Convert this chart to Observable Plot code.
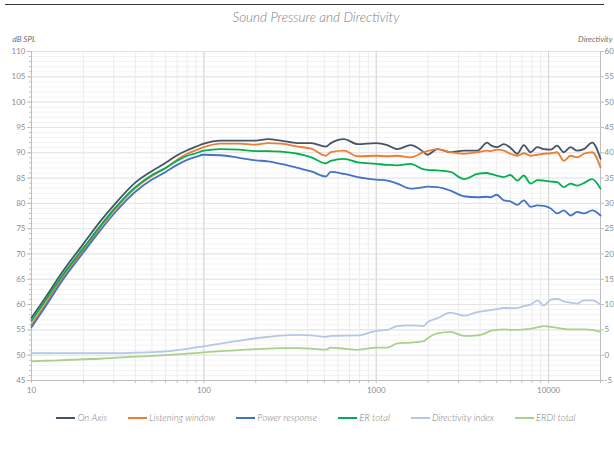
<!DOCTYPE html>
<html><head><meta charset="utf-8">
<script src="https://cdn.jsdelivr.net/npm/d3@7"></script>
<script src="https://cdn.jsdelivr.net/npm/@observablehq/plot@0.6"></script>
<style>
body{margin:0;background:#fff;font-family:Lato,"Open Sans",sans-serif;}
#wrap{position:relative;width:614px;height:450px;overflow:hidden;}
#topline{position:absolute;left:5px;top:4px;width:599px;height:0;border-top:1.5px solid #3a3a3a;}
#title{position:absolute;top:9px;left:0;width:632px;text-align:center;font-style:italic;font-size:13.5px;color:#808080;font-weight:300;}
#chart{position:absolute;top:30px;left:0;}
#legend{position:absolute;top:412px;left:0;width:632px;display:flex;justify-content:center;gap:21px;font-size:9.5px;font-style:italic;color:#808080;font-weight:300;}
#legend .it{display:flex;align-items:center;}
#legend .sw{display:inline-block;width:19px;height:2px;margin-right:2px;}
</style></head>
<body>
<div id="wrap">
  <div id="topline"></div>
  <div id="title">Sound Pressure and Directivity</div>
  <div id="chart"></div>
  <div id="legend"></div>
</div>
<script>
// ---- data ----
const freqs = [10,12,15,20,25,30,40,50,60,70,80,90,100,125,160,200,235,280,350,420,510,545,650,780,1000,1160,1325,1580,1890,1980,2260,2700,3225,3860,4400,4600,5000,5500,6000,6580,7180,7860,8600,9380,10300,11200,12250,13400,14650,16000,17900,20000];
const onAxis = [57.4,61.3,66.3,72.0,76.4,79.6,84.1,86.4,88.0,89.5,90.5,91.2,91.8,92.4,92.4,92.4,92.7,92.4,91.9,91.9,91.2,91.9,92.7,91.7,91.9,91.5,90.7,91.5,90.1,89.6,90.7,90.1,90.4,90.4,92.0,91.5,91.1,91.7,91.0,89.8,91.5,90.1,91.1,90.7,90.6,91.4,90.1,91.1,90.4,90.7,92.0,88.8];
const listeningWindow = [56.0,60.0,65.1,70.8,75.2,78.5,83.0,85.4,87.0,88.6,89.8,90.5,91.1,91.8,91.8,91.6,91.9,91.8,91.2,90.8,89.4,90.1,90.4,89.3,89.4,89.3,89.4,89.1,90.1,90.3,90.7,90.1,89.8,90.1,90.4,90.3,90.6,90.4,89.8,89.4,89.9,89.4,89.6,89.8,89.9,90.1,88.4,89.4,89.1,89.8,90.1,87.1];
const powerResponse = [55.5,59.5,64.6,70.3,74.6,77.9,82.3,84.7,86.2,87.6,88.6,89.2,89.6,89.5,89.0,88.5,88.3,87.8,87.0,86.3,85.3,86.2,85.8,85.2,84.7,84.5,83.9,82.9,83.2,83.3,83.2,82.5,81.4,81.2,81.3,81.2,81.7,80.6,80.4,79.7,80.6,79.3,79.6,79.5,79.0,78.0,78.6,77.6,78.3,78.0,78.6,77.6];
const erTotal = [56.8,60.7,65.6,71.2,75.5,78.8,83.2,85.6,87.0,88.4,89.4,89.9,90.4,90.7,90.6,90.3,90.3,90.2,89.8,89.1,87.9,88.4,88.8,88.1,87.8,87.6,87.5,87.8,86.7,86.6,86.5,86.2,84.8,85.8,86.0,85.8,85.5,85.2,85.6,84.5,85.5,83.9,84.6,84.5,84.3,84.2,83.2,83.9,83.5,84.0,84.8,82.9];
// directivity values are in right-axis units
const directivityIndex = [0.4,0.4,0.4,0.4,0.4,0.4,0.5,0.6,0.75,1.0,1.25,1.55,1.75,2.3,2.85,3.35,3.6,3.85,4.0,3.9,3.6,3.8,3.85,3.9,4.8,5.0,5.75,5.9,5.75,6.5,7.3,8.4,7.8,8.5,8.8,8.9,9.1,9.35,9.3,9.35,9.7,10.0,10.85,9.8,11.0,11.1,10.65,10.4,10.2,10.85,10.85,10.0];
const erdiTotal = [-1.2,-1.1,-1.0,-0.8,-0.7,-0.55,-0.3,-0.15,0.0,0.15,0.3,0.42,0.55,0.8,1.0,1.2,1.3,1.4,1.4,1.3,1.1,1.5,1.3,1.05,1.5,1.5,2.35,2.5,2.8,3.3,4.3,4.6,3.8,3.9,4.5,4.8,5.0,5.1,5.0,5.0,5.1,5.2,5.5,5.75,5.6,5.4,5.2,5.1,5.1,5.1,5.0,4.6];

const DI_OFFSET = 50; // right axis = left axis - 50
const seriesNames = ["On Axis","Listening window","Power response","ER total","Directivity index","ERDI total"];
const seriesColors = ["#44546A","#ED7D31","#4472C4","#00B050","#B4C7E7","#A9D18E"];
const seriesValues = [onAxis, listeningWindow, powerResponse, erTotal, directivityIndex, erdiTotal];
const seriesOffset = [0,0,0,0,DI_OFFSET,DI_OFFSET];

const xDomain = [10, 20000];
const yDomain = [45, 110];
const yMajor = d3.range(45, 111, 5);
const yMinor = d3.range(45, 111, 1);
const xDecades = [10, 100, 1000, 10000];
const xAllTicks = [10,20,30,40,50,60,70,80,90,100,200,300,400,500,600,700,800,900,1000,2000,3000,4000,5000,6000,7000,8000,9000,10000,20000];

const rows = [];
seriesNames.forEach((name, s) => {
  freqs.forEach((f, i) => rows.push({series: name, f, v: seriesValues[s][i] + seriesOffset[s]}));
});

const lineMarks = seriesNames.map((name, s) =>
  Plot.line(rows.filter(r => r.series === name), {x: "f", y: "v", stroke: seriesColors[s], strokeWidth: 1.8, curve: "monotone-x"})
);

const chart = Plot.plot({
  width: 614, height: 375,
  marginLeft: 31, marginRight: 14, marginTop: 21, marginBottom: 25,
  style: {fontFamily: "Lato, 'Open Sans', sans-serif", fontSize: "8px", color: "#8c8c8c", background: "transparent"},
  x: {type: "log", domain: xDomain, label: null},
  y: {domain: yDomain, label: null},
  marks: [
    Plot.gridY(yMinor, {stroke: "#f3f3f3", strokeOpacity: 1}),
    Plot.gridY(yMajor, {stroke: "#e3e3e3", strokeOpacity: 1}),
    Plot.gridX(xAllTicks, {stroke: "#ececec", strokeOpacity: 1}),
    Plot.gridX(xDecades, {stroke: "#d6d6d6", strokeOpacity: 1}),
    Plot.ruleX(xDomain, {stroke: "#bfbfbf"}),
    Plot.ruleY([yDomain[0]], {stroke: "#bfbfbf"}),
    Plot.axisY(yMinor, {anchor: "left", tickSize: 2, tickFormat: () => "", stroke: "#bfbfbf"}),
    Plot.axisY(yMajor, {anchor: "left", tickSize: 4, tickPadding: 2, stroke: "#bfbfbf", fill: "#8c8c8c"}),
    Plot.axisY(yMajor, {anchor: "right", tickSize: 3, tickPadding: 1, stroke: "#bfbfbf", fill: "#8c8c8c", tickFormat: d => String(d - DI_OFFSET)}),
    Plot.axisX(xAllTicks, {anchor: "bottom", tickSize: 3, tickPadding: 4, stroke: "#bfbfbf", fill: "#8c8c8c", tickFormat: d => xDecades.includes(d) ? String(d) : ""}),
    ...lineMarks,
    Plot.text(["dB SPL"], {frameAnchor: "top-left", dx: -19, dy: -15, textAnchor: "start", fontStyle: "italic", fill: "#6e6e6e"}),
    Plot.text(["Directivity"], {frameAnchor: "top-right", dx: 12, dy: -15, textAnchor: "end", fontStyle: "italic", fill: "#6e6e6e"})
  ]
});
document.getElementById("chart").appendChild(chart);

const legend = document.getElementById("legend");
seriesNames.forEach((name, s) => {
  const it = document.createElement("div"); it.className = "it";
  const sw = document.createElement("span"); sw.className = "sw"; sw.style.background = seriesColors[s];
  const tx = document.createElement("span"); tx.textContent = name;
  it.appendChild(sw); it.appendChild(tx); legend.appendChild(it);
});
</script>
</body></html>
